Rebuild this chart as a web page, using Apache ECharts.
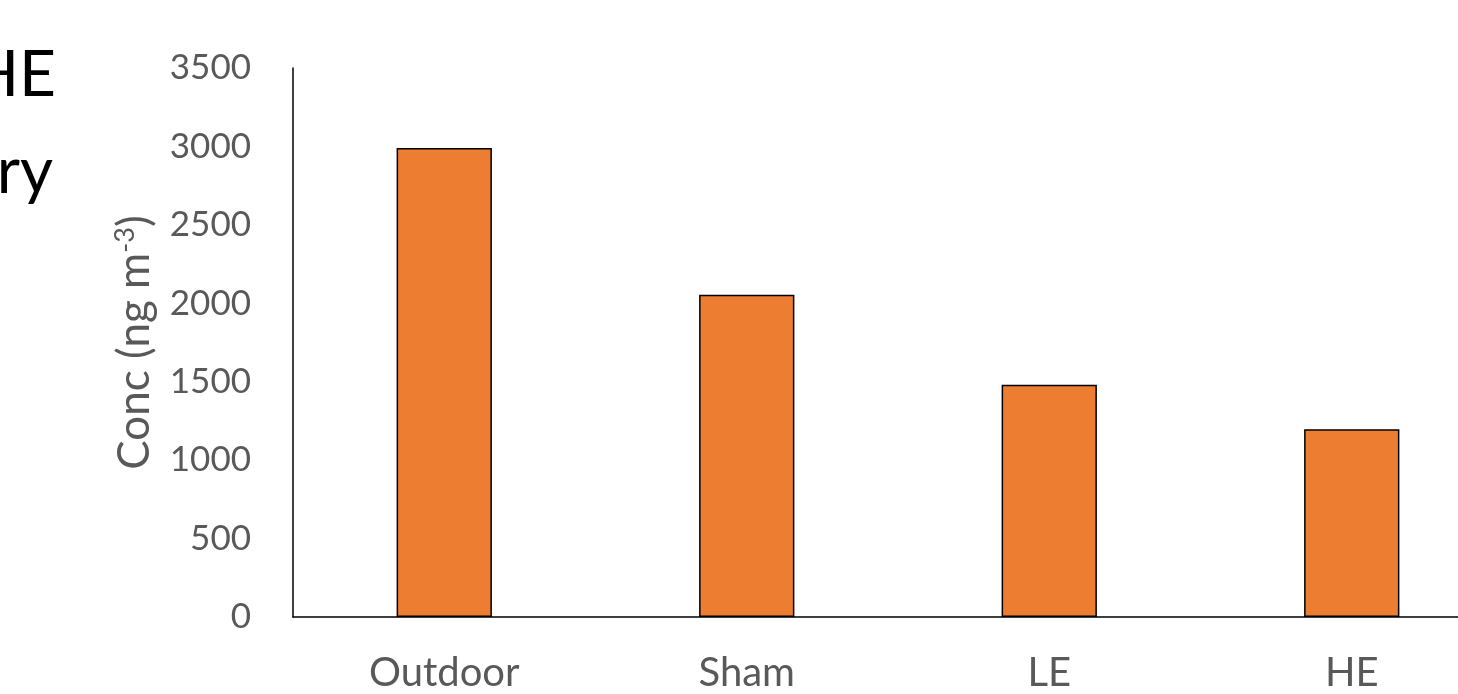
<!DOCTYPE html>
<html>
<head>
<meta charset="utf-8">
<script src="https://cdn.jsdelivr.net/npm/echarts@6/dist/echarts.min.js"></script>
<style>
  html, body { margin: 0; padding: 0; background: #fff; }
  #main { width: 1458px; height: 694px; }
</style>
</head>
<body>
<div id="main"></div>
<script>
// 各组别
var categories = ['Outdoor', 'Sham', 'LE', 'HE'];
// 浓度 (ng m-3)
var concValues = [2990, 2055, 1480, 1197];
var yTicks = [0, 500, 1000, 1500, 2000, 2500, 3000, 3500];

var myChart = echarts.init(document.getElementById('main'));
var fontName = 'Lato, "Open Sans", sans-serif';

var option = {
    animation: false,
    backgroundColor: '#ffffff',
    graphic: [
        {
            type: 'text', right: 1458 - 56, top: 43,
            style: { text: 'HE', fill: '#000', font: '64px ' + fontName, textAlign: 'right' }
        },
        {
            type: 'text', right: 1458 - 53, top: 140,
            style: { text: 'ry', fill: '#000', font: '64px ' + fontName, textAlign: 'right' }
        }
    ],
    grid: {
        left: 293,
        top: 68,
        bottom: 77,
        right: -45,
        containLabel: false,
        outerBoundsMode: 'none'
    },
    xAxis: {
        type: 'category',
        data: categories,
        axisLine: { lineStyle: { color: '#000', width: 1.5 } },
        axisTick: { show: false },
        axisLabel: { color: '#595959', fontSize: 40, fontFamily: fontName, margin: 36 }
    },
    yAxis: {
        type: 'value',
        min: yTicks[0],
        max: yTicks[yTicks.length - 1],
        interval: 500,
        name: 'Conc (ng m{sup|-3})',
        nameLocation: 'middle',
        nameGap: 136,
        nameRotate: 90,
        nameTextStyle: {
            color: '#595959', fontSize: 44, fontFamily: fontName,
            rich: {
                sup: { fontSize: 27, color: '#595959', fontFamily: fontName, verticalAlign: 'top', padding: [0, 0, 18, 0] }
            }
        },
        axisLine: { show: true, lineStyle: { color: '#000', width: 1.5 } },
        axisTick: { show: false },
        splitLine: { show: false },
        axisLabel: {
            color: '#595959', fontSize: 35, fontFamily: fontName, margin: 42,
            formatter: function (v) { return String(v); }
        }
    },
    series: [
        {
            type: 'bar',
            data: concValues,
            barWidth: '31.5%',
            itemStyle: { color: '#ED7D31', borderColor: '#000', borderWidth: 1.5 }
        }
    ]
};
myChart.setOption(option);
</script>
</body>
</html>
